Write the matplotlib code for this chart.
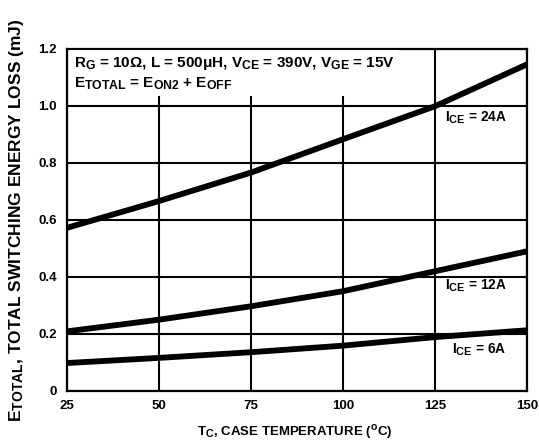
import matplotlib.pyplot as plt
import matplotlib._mathtext as mt
import numpy as np

plt.rcParams['font.family'] = 'Liberation Sans'
plt.rcParams['font.weight'] = 'bold'
plt.rcParams['mathtext.fontset'] = 'custom'
plt.rcParams['mathtext.rm'] = 'Liberation Sans:bold'
plt.rcParams['mathtext.it'] = 'Liberation Sans:bold'
plt.rcParams['mathtext.bf'] = 'Liberation Sans:bold'
# datasheet subscripts are larger than the mathtext default
mt.SHRINK_FACTOR = 0.8

# case temperature (C)
tc = [25, 50, 75, 100, 125, 150]
# total switching energy loss (mJ)
e_24a = [0.571, 0.665, 0.765, 0.882, 0.998, 1.145]
e_12a = [0.208, 0.249, 0.296, 0.349, 0.419, 0.489]
e_6a = [0.097, 0.115, 0.135, 0.158, 0.188, 0.212]

xticks = [25, 50, 75, 100, 125, 150]
yticks = [0, 0.2, 0.4, 0.6, 0.8, 1.0, 1.2]
yticklabels = ['0', '0.2', '0.4', '0.6', '0.8', '1.0', '1.2']

fig = plt.figure(figsize=(5.39, 4.46), dpi=100)
ax = fig.add_axes([0.1237, 0.124, 0.8543, 0.767])

for ys in (e_24a, e_12a, e_6a):
    ax.plot(tc, ys, color='black', lw=4.2, solid_capstyle='butt', zorder=3)

ax.set_xlim(25, 150)
ax.set_ylim(0, 1.2)
ax.set_xticks(xticks)
ax.set_yticks(yticks)
ax.set_yticklabels(yticklabels)
ax.tick_params(length=0, labelsize=9.5, pad=7)
for lab in ax.get_xticklabels() + ax.get_yticklabels():
    lab.set_fontweight('bold')
ax.grid(True, color='black', lw=1.5)
for s in ax.spines.values():
    s.set_linewidth(1.6)

ax.text(27, 1.177,
        'R$_{\\rm G}$ = 10$\\Omega$, L = 500$\\mu$H, V$_{\\rm CE}$ = 390V, V$_{\\rm GE}$ = 15V\n'
        'E$_{\\rm TOTAL}$ = E$_{\\rm ON2}$ + E$_{\\rm OFF}$',
        fontsize=11, fontweight='bold', va='top', ha='left', linespacing=1.3,
        bbox=dict(facecolor='white', edgecolor='none', pad=3), zorder=4)

ax.text(127.8, 0.957, 'I$_{\\rm CE}$ = 24A', fontsize=9.8, va='center', ha='left', zorder=4)
ax.text(127.8, 0.367, 'I$_{\\rm CE}$ = 12A', fontsize=9.8, va='center', ha='left', zorder=4)
ax.text(129.7, 0.144, 'I$_{\\rm CE}$ = 6A', fontsize=9.8, va='center', ha='left', zorder=4)

fig.text(0.5465, 0.03, 'T$_{\\rm C}$, CASE TEMPERATURE ($^{\\rm o}$C)',
         fontsize=9.5, fontweight='bold', ha='center', va='center')
fig.text(0.03, 0.507, 'E$_{\\rm TOTAL}$, TOTAL SWITCHING ENERGY LOSS (mJ)',
         fontsize=12.5, fontweight='bold', ha='center', va='center', rotation=90)

fig.savefig('out.png', dpi=100)
